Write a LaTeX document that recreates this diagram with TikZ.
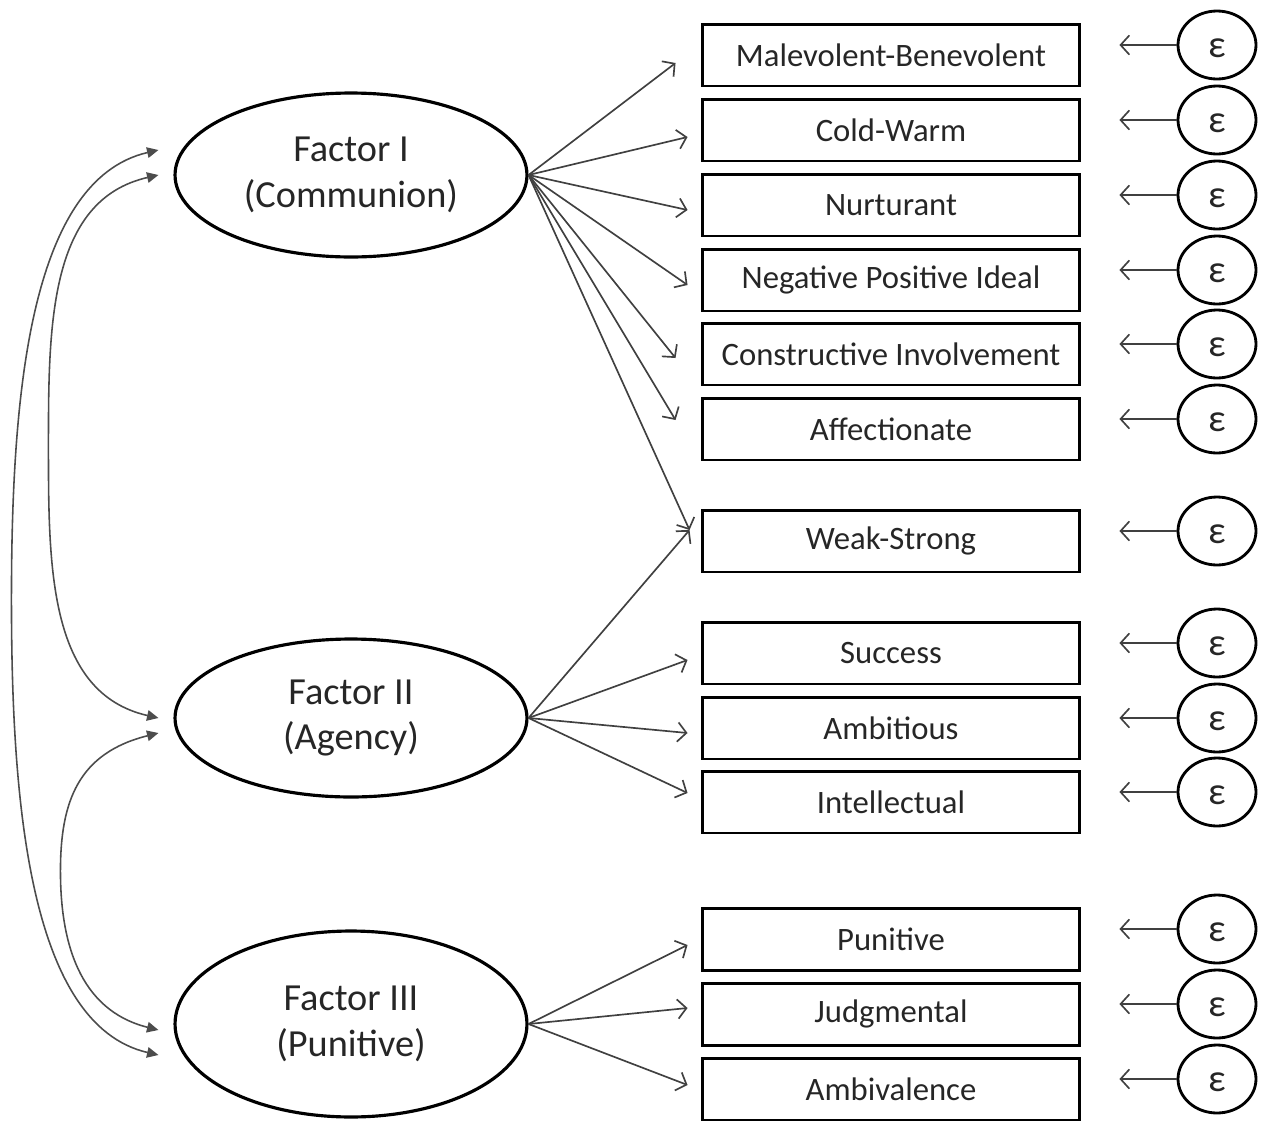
\documentclass[tikz,border=0pt]{standalone}
\usepackage{fontspec}
\setmainfont{Carlito}
\usepackage{tikz}
\usetikzlibrary{calc}
\usetikzlibrary{arrows.meta}
\usetikzlibrary{shapes.geometric}
\begin{document}
\begin{tikzpicture}[x=0.02cm,y=-0.02cm,
	item/.style={draw,line width=1.7pt,minimum width=7.56cm,minimum height=1.24cm,inner sep=0pt,text=black!85,font=\fontsize{18.6}{20}\selectfont},
	eps/.style={draw,ellipse,line width=1.6pt,minimum width=1.56cm,minimum height=1.36cm,inner sep=0pt,text=black!85,font=\fontsize{22}{22}\selectfont},
	factor/.style={draw,ellipse,line width=1.8pt,minimum width=7.04cm,inner sep=0pt,align=center,text=black!85,font=\fontsize{21.8}{26}\selectfont},
	load/.style={-{Straight Barb[length=5pt,width=11pt]},line width=0.95pt,black!75},
	cov/.style={{Triangle[length=6.5pt,width=6pt]}-{Triangle[length=6.5pt,width=6pt]},line width=0.9pt,black!70}]
	\useasboundingbox (0,0) rectangle (1262,1120);
	\node[factor,minimum height=3.28cm] (f1) at (351,175) {Factor I\\(Communion)};
	\node[factor,minimum height=3.16cm] (f2) at (351,718) {Factor II\\(Agency)};
	\node[factor,minimum height=3.72cm] (f3) at (351,1024) {Factor III\\(Punitive)};
	\foreach \n/\y/\t in {1/55/Malevolent-Benevolent,2/130/Cold-Warm,3/205/Nurturant,4/280/Negative Positive Ideal,5/354/Constructive Involvement,6/429/Affectionate,7/541/Weak-Strong,8/653/Success,9/728/Ambitious,10/802/Intellectual,11/939/Punitive,12/1014/Judgmental,13/1089/Ambivalence}{
		\node[item] (b\n) at (891,\y) {\t};
		\node[eps] (e\n) at (1217,\y-10) {\raisebox{-7pt}[0pt][0pt]{ε}};
		\draw[load] (e\n.west) -- (e\n.west -| b\n.east) [shorten >=0.76cm];
	}
	\foreach \n/\dx/\dy in {1/-25/8,2/-13/7,3/-13/5,4/-13/5,5/-25/4,6/-25/-9,7/-11/-11}
		\draw[load] (f1.east) -- ($(b\n.west)+(\dx,\dy)$);
	\foreach \n/\dx/\dy in {7/-11/-11,8/-13/7,9/-13/5,10/-13/-9}
		\draw[load] (f2.east) -- ($(b\n.west)+(\dx,\dy)$);
	\foreach \n/\dx/\dy in {11/-13/6,12/-13/-6,13/-13/-4}
		\draw[load] (f3.east) -- ($(b\n.west)+(\dx,\dy)$);
	\draw[cov] ($(f1.west)+(-15,-25)$) .. controls +(-130,30) and +(0,-200) .. ($(f1.west)!0.5!(f3.west)+(-162,0)$)
		.. controls +(0,200) and +(-130,-30) .. ($(f3.west)+(-15,31)$);
	\draw[cov] ($(f1.west)+(-15,0)$) .. controls +(-110,25) and +(0,-120) .. ($(f1.west)!0.5!(f2.west)+(-125,0)$)
		.. controls +(0,120) and +(-110,-25) .. ($(f2.west)+(-15,0)$);
	\draw[cov] ($(f2.west)+(-15,15)$) .. controls +(-80,20) and +(0,-70) .. ($(f2.west)!0.5!(f3.west)+(-113,0)$)
		.. controls +(0,70) and +(-80,-20) .. ($(f3.west)+(-15,6)$);
\end{tikzpicture}
\end{document}
